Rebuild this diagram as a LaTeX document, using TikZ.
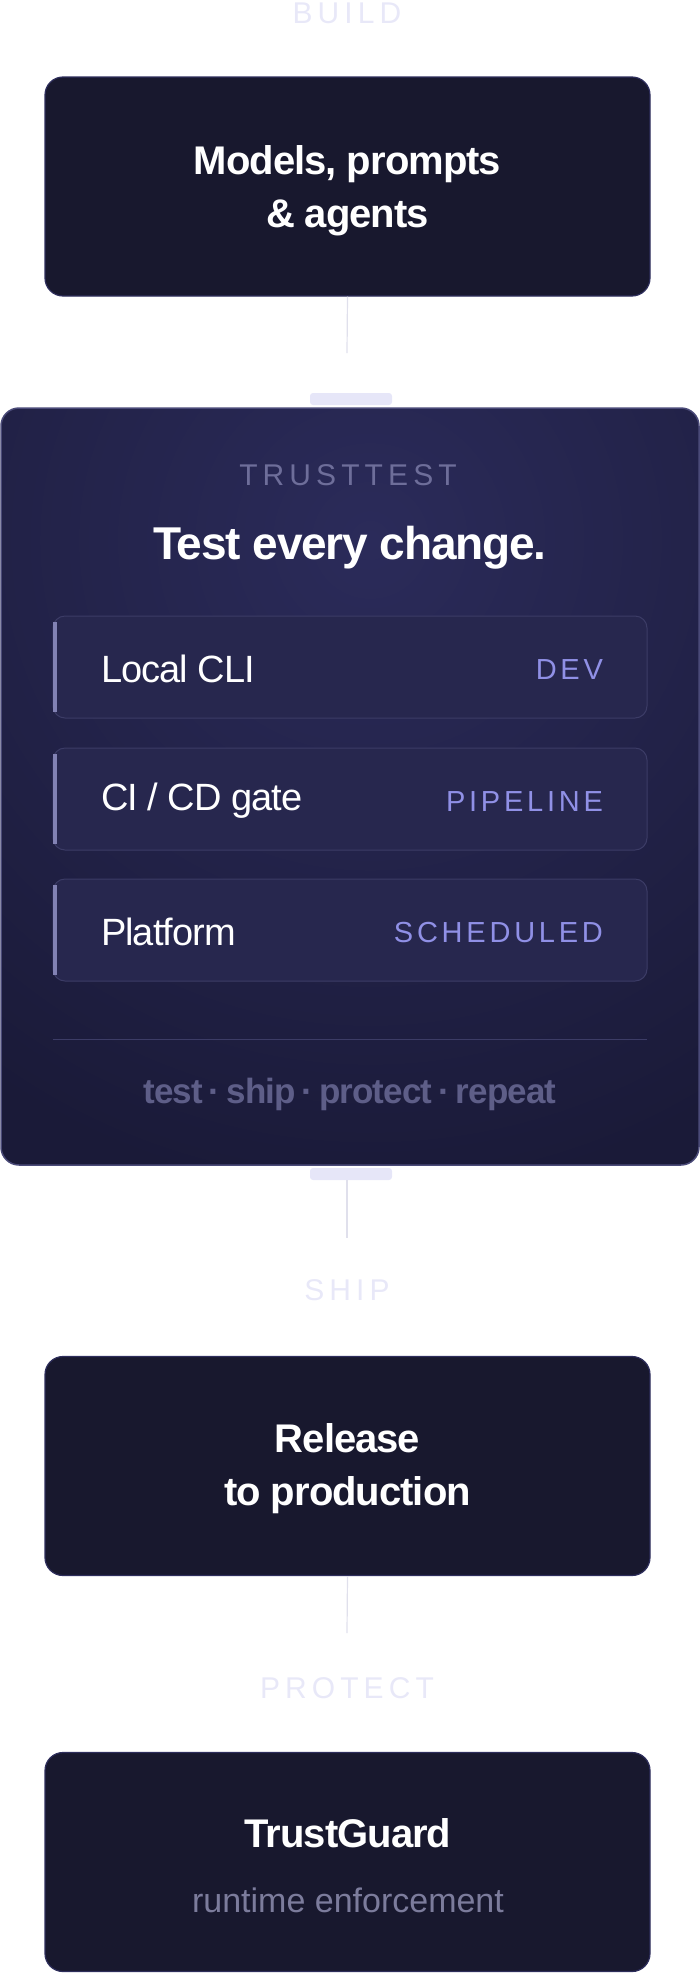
\documentclass[tikz,border=0pt]{standalone}
\usepackage{fontspec}
\setmainfont{Liberation Sans}
\newfontfamily\spacedfont[LetterSpace=17]{Liberation Sans}
\newfontfamily\tagfont[LetterSpace=13]{Liberation Sans}
\newfontfamily\tightfont[LetterSpace=-2.5]{Liberation Sans}
\usepackage{tikz}
\usetikzlibrary{positioning}
\definecolor{cardfill}{HTML}{18182E}
\definecolor{cardedge}{HTML}{2E2E5C}
\definecolor{hubfill}{HTML}{1A1A38}
\definecolor{hubglow}{HTML}{2B2B5A}
\definecolor{hubedge}{HTML}{4A4A78}
\definecolor{rowfill}{HTML}{27274E}
\definecolor{rowedge}{HTML}{3C3C66}
\definecolor{rowbar}{HTML}{8282B4}
\definecolor{tabcol}{HTML}{E6E6F8}
\definecolor{phasecol}{HTML}{E8E8F8}
\definecolor{linkcol}{HTML}{E0E0EC}
\definecolor{brandcol}{HTML}{6E6E9A}
\definecolor{tagcol}{HTML}{9090E6}
\definecolor{mottocol}{HTML}{5E5E88}
\definecolor{subcol}{HTML}{7C7C9C}
\newcommand{\fs}[1]{\fontsize{#1}{1.32\dimexpr#1pt\relax}\selectfont}
\tikzset{
x=1pt, y=-1pt, % one unit is one pixel of the reference
stage/.style={draw=cardedge, line width=1.2pt, fill=cardfill, rounded corners=18pt,
  minimum width=605pt, minimum height=219pt, text=white, align=center,
  font=\tightfont\bfseries\fs{40}}, % the three plain step cards
phase/.style={text=phasecol, font=\spacedfont\fs{30}}, % light labels between cards
link/.style={draw=linkcol, line width=1.2pt}, % thin joining lines
tabbar/.style={fill=tabcol, rounded corners=3pt, minimum width=82pt, minimum height=12pt, inner sep=0pt},
rowbox/.style={draw=rowedge, line width=1pt, fill=rowfill, rounded corners=12pt,
  minimum width=594pt, minimum height=102pt}, % rows inside the big card
rowname/.style={anchor=west, text=white, font=\tightfont\fs{38}},
rowtag/.style={anchor=east, text=tagcol, font=\tagfont\fs{29}},
}
\begin{document}
\begin{tikzpicture}
\useasboundingbox (0,0) rectangle (700,1973);

% build
\node[phase] (build) at (347,13) {BUILD};
\node[stage] (models) at (347.5,186.5) {};
\node[text=white, align=center, font=\tightfont\bfseries\fs{40}] at (347.5,191) {Models, prompts\\\& agents};
\coordinate (buildend) at (347,353);
\draw[link] (models.south) -- (buildend);

% trusttest card
\node[tabbar] (tabtop) at (351,399) {};
\begin{scope}
  \clip[rounded corners=18pt] (1,408) rectangle (699,1165);
  \fill[hubfill] (1,408) rectangle (699,1165);
  \shade[inner color=hubglow, outer color=hubfill] (370,540) circle (660);
\end{scope}
\node[draw=hubedge, line width=1.5pt, rounded corners=18pt, minimum width=698pt,
  minimum height=757pt] (hub) at (350,786.5) {};
\node[text=brandcol, font=\spacedfont\fs{30}] (brand) at (348,475) {TRUSTTEST};
\node[text=white, font=\tightfont\bfseries\fs{46}] (headline) at (350,548) {Test every change.};
\foreach \y/\name/\tag/\id in {667/{Local CLI}/DEV/dev, 799/{CI / CD gate}/PIPELINE/pipe, 930/{Platform}/SCHEDULED/sched}{
  \node[rowbox] (\id) at (350,\y) {};
  \fill[rowbar] ([xshift=0.5pt]\id.north west) ++(0,6) rectangle ++(4,90);
  \node[rowname] at ([xshift=45pt, yshift=-2pt]\id.west) {\name};
  \node[rowtag] at ([xshift=-41pt, yshift=-3pt]\id.east) {\tag};
}
\draw[rowedge, line width=1pt] (53,1039) -- (647,1039);
\node[text=mottocol, font=\tightfont\bfseries\fs{35}] (motto) at (350,1094) {test\,·\,ship\,·\,protect\,·\,repeat};
\node[tabbar] (tabbot) at (351,1174) {};

% ship
\coordinate (shipend) at (347,1238);
\draw[link] (tabbot.south -| shipend) -- (shipend);
\node[phase] (ship) at (347,1290) {SHIP};
\node[stage] (release) at (347.5,1466) {};
\node[text=white, align=center, font=\tightfont\bfseries\fs{40}] at (347.5,1469) {Release\\to production};
\coordinate (releaseend) at (347,1633);
\draw[link] (release.south) -- (releaseend);

% protect
\node[phase] (protect) at (347,1688) {PROTECT};
\node[stage] (guard) at (347.5,1862) {};
\node[text=white, font=\tightfont\bfseries\fs{40}] (guardname) at (348,1833) {TrustGuard};
\node[text=subcol, font=\fs{34}] (guardsub) at (348,1900) {runtime enforcement};
\end{tikzpicture}
\end{document}
